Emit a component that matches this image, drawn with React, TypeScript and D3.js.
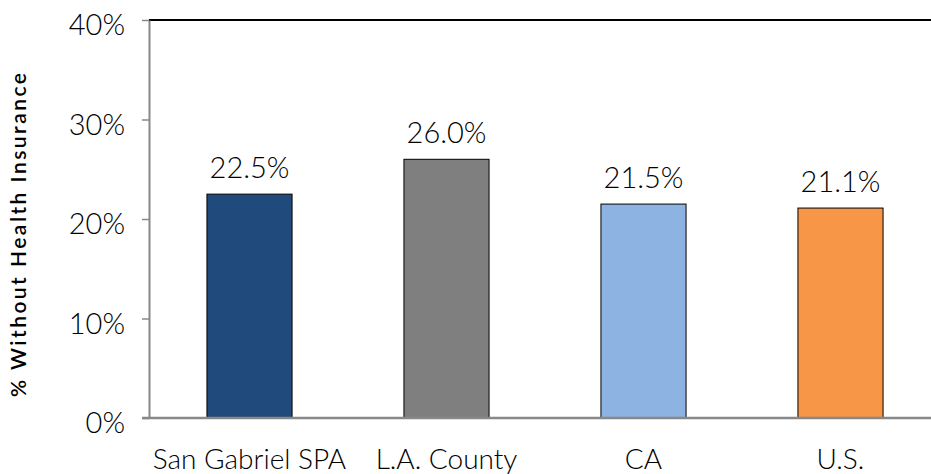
import React, { useEffect, useRef } from 'react'
import * as d3 from 'd3'

const categories = ['San Gabriel SPA', 'L.A. County', 'CA', 'U.S.']
const values = [22.5, 26.0, 21.5, 21.1]
const colors = ['#214a7c', '#7f7f7f', '#8db3e2', '#f79646']
const yTicks = [0, 10, 20, 30, 40]

const W = 931
const H = 474
const margin = { top: 20, right: -8, bottom: 56, left: 149 }

export default function App() {
  const svgRef = useRef<SVGSVGElement>(null)

  useEffect(() => {
    if (!svgRef.current) return
    const svg = d3.select(svgRef.current)
    svg.selectAll('*').remove()

    const innerW = W - margin.left - margin.right
    const innerH = H - margin.top - margin.bottom
    const font = 'Lato, "Open Sans", sans-serif'

    const g = svg.append('g').attr('transform', `translate(${margin.left},${margin.top})`)

    const x = d3.scaleBand().domain(categories).range([2, innerW]).paddingInner(0.568).paddingOuter(0.284)
    const y = d3.scaleLinear().domain([0, 40]).range([innerH, 0])

    // top border
    g.append('line')
      .attr('x1', 0).attr('x2', innerW)
      .attr('y1', 0).attr('y2', 0)
      .attr('stroke', '#000').attr('stroke-width', 2)

    // bars
    g.selectAll('rect.bar')
      .data(values)
      .enter()
      .append('rect')
      .attr('class', 'bar')
      .attr('x', (d, i) => x(categories[i]) ?? 0)
      .attr('y', d => y(d))
      .attr('width', x.bandwidth())
      .attr('height', d => innerH - y(d))
      .attr('fill', (d, i) => colors[i])
      .attr('stroke', '#000')
      .attr('stroke-width', 1)

    // value labels
    g.selectAll('text.val')
      .data(values)
      .enter()
      .append('text')
      .attr('class', 'val')
      .attr('x', (d, i) => (x(categories[i]) ?? 0) + x.bandwidth() / 2)
      .attr('y', d => y(d) - 16)
      .attr('text-anchor', 'middle')
      .style('font-family', font)
      .style('font-size', '29px')
      .style('font-weight', 300)
      .attr('fill', '#000')
      .text(d => d.toFixed(1) + '%')

    // y axis
    const yAxis = g.append('g')
      .call(d3.axisLeft(y).tickValues(yTicks).tickFormat(d => d + '%').tickSize(7).tickSizeOuter(0))
    yAxis.select('.domain').attr('stroke', '#888').attr('stroke-width', 2)
    yAxis.selectAll('.tick line').attr('stroke', '#888').attr('stroke-width', 1.5)
    yAxis.selectAll('.tick text')
      .attr('x', -24)
      .attr('dy', '0.5em')
      .style('font-family', font)
      .style('font-size', '29px')
      .style('font-weight', 300)
      .attr('fill', '#000')

    // x axis
    const xAxis = g.append('g')
      .attr('transform', `translate(0,${innerH})`)
      .call(d3.axisBottom(x).tickSize(0).tickSizeOuter(0))
    xAxis.select('.domain').attr('stroke', '#888').attr('stroke-width', 2.5)
      .attr('d', `M-7,0H${innerW}`)
    xAxis.selectAll('.tick text')
      .attr('y', 51)
      .attr('dy', '0')
      .style('font-family', font)
      .style('font-size', '28px')
      .style('font-weight', 300)
      .attr('fill', '#000')

    // y title
    svg.append('text')
      .attr('transform', `translate(26,235) rotate(-90)`)
      .attr('text-anchor', 'middle')
      .attr('textLength', 324)
      .attr('lengthAdjust', 'spacing')
      .style('font-family', font)
      .style('font-size', '21px')
      .style('font-weight', 600)
      .attr('fill', '#000')
      .text('% Without Health Insurance')
  }, [])

  return (
    <div style={{ width: W, height: H, position: 'absolute', left: 0, top: 0, overflow: 'hidden' }}>
      <svg ref={svgRef} width={W} height={H} />
    </div>
  )
}
